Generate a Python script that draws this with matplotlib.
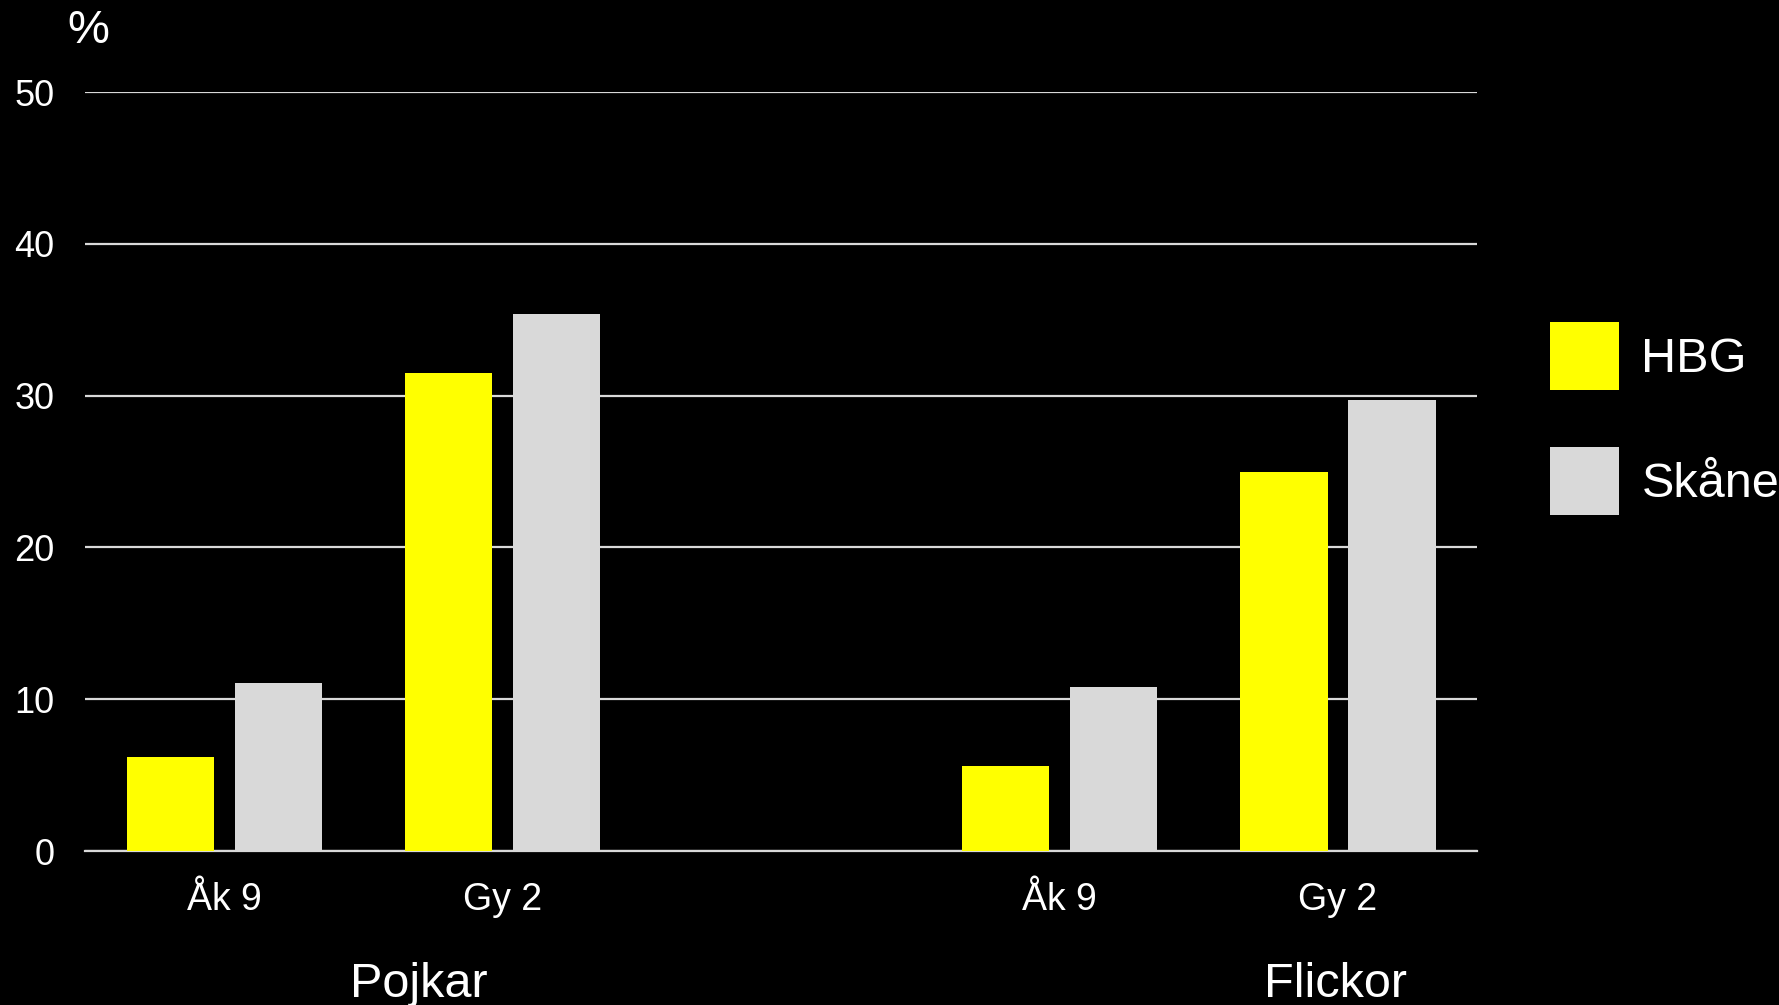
import numpy as np
import matplotlib
matplotlib.use('Agg')
import matplotlib.pyplot as plt
import matplotlib.transforms as mtransforms

plt.rcParams['font.family'] = ['Liberation Sans', 'DejaVu Sans']

# data
categories = ['Åk 9', 'Gy 2', '', 'Åk 9', 'Gy 2']
hbg = [6.2, 31.5, np.nan, 5.6, 25.0]
skane = [11.1, 35.4, np.nan, 10.8, 29.7]
series_names = ['HBG', 'Skåne']
groups = ['Pojkar', 'Flickor']
group_pos = [0.70, 3.99]
yticks = [0, 10, 20, 30, 40, 50]

YELLOW = '#FFFF00'
GREY = '#D9D9D9'

fig = plt.figure(figsize=(17.79, 10.05), dpi=100, facecolor='black')
ax = fig.add_axes([0.0478, 0.1532, 0.7825, 0.7552], facecolor='black')

x = np.arange(len(categories))
w = 0.314
ax.bar(x - 0.194, hbg, w, color=YELLOW, label=series_names[0], zorder=3)
ax.bar(x + 0.194, skane, w, color=GREY, label=series_names[1], zorder=3)

ax.set_xlim(-0.5, len(categories) - 0.5)
ax.set_ylim(0, 50)
ax.set_yticks(yticks)
ax.set_xticks([i for i, c in enumerate(categories) if c])
ax.set_xticklabels([c for c in categories if c])

ax.yaxis.grid(True, color=GREY, linewidth=1.6, zorder=0)
for s in ['top', 'right', 'left']:
    ax.spines[s].set_visible(False)
ax.spines['bottom'].set_color(GREY)
ax.spines['bottom'].set_linewidth(1.6)
ax.tick_params(axis='both', length=0, colors='white', labelsize=26)
ax.tick_params(axis='x', pad=22, labelsize=27)
ax.tick_params(axis='y', pad=22)

# group labels under the tick labels
trans = mtransforms.blended_transform_factory(ax.transData, fig.transFigure)
for g, p in zip(groups, group_pos):
    ax.text(p, 0.0206, g, transform=trans, ha='center', va='center',
            color='white', fontsize=35)

fig.text(0.0498, 0.9696, '%', ha='center', va='center', color='white', fontsize=34)

leg = fig.legend(loc='upper left', bbox_to_anchor=(0.8713, 0.6796),
                 frameon=False, fontsize=35, borderpad=0, borderaxespad=0,
                 handlelength=1.42, handleheight=1.776, handletextpad=0.46,
                 labelspacing=1.17)
for t in leg.get_texts():
    t.set_color('white')

fig.savefig('out.png', dpi=100, facecolor='black')
